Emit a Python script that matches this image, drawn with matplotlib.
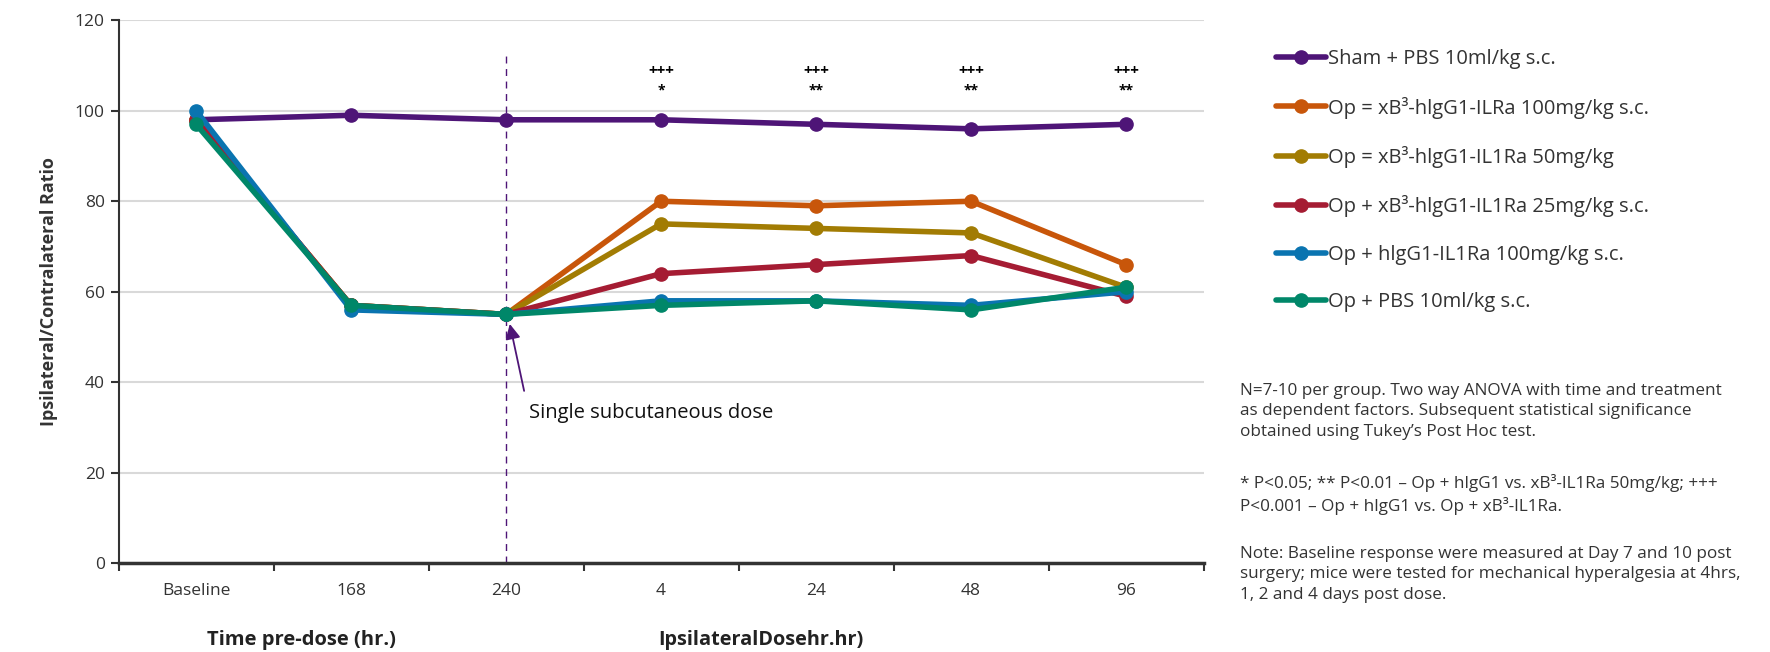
import matplotlib
matplotlib.use("Agg")
import matplotlib.pyplot as plt
import numpy as np

plt.rcParams['font.family'] = ['Open Sans', 'DejaVu Sans']

categories = ["Baseline", "168", "240", "4", "24", "48", "96"]
series_names = [
    "Sham + PBS 10ml/kg s.c.",
    "Op = xB³-hlgG1-ILRa 100mg/kg s.c.",
    "Op = xB³-hlgG1-IL1Ra 50mg/kg",
    "Op + xB³-hlgG1-IL1Ra 25mg/kg s.c.",
    "Op + hlgG1-IL1Ra 100mg/kg s.c.",
    "Op + PBS 10ml/kg s.c.",
]
sham = [98, 99, 98, 98, 97, 96, 97]
op_100 = [98, 57, 55, 80, 79, 80, 66]
op_50 = [98, 57, 55, 75, 74, 73, 61]
op_25 = [98, 57, 55, 64, 66, 68, 59]
hlg_100 = [100, 56, 55, 58, 58, 57, 60]
op_pbs = [97, 57, 55, 57, 58, 56, 61]
series_values = [sham, op_100, op_50, op_25, hlg_100, op_pbs]
colors = ["#4E1577", "#C8560A", "#A27C03", "#A51C33", "#0A74B0", "#008769"]

sig_top = ["", "", "", "+++", "+++", "+++", "+++"]
sig_bottom = ["", "", "", "*", "**", "**", "**"]

fig = plt.figure(figsize=(17.7, 6.52), dpi=100)
ax = fig.add_axes([0.067, 0.136, 0.613, 0.833])

x = np.arange(len(categories))
handles = []
for name, vals, c in zip(series_names, series_values, colors):
    h, = ax.plot(x, vals, color=c, lw=4.0, marker='o', ms=9.5, label=name,
                 solid_capstyle='round', zorder=3)
    handles.append(h)

ax.set_xlim(-0.5, len(categories) - 0.5)
ax.set_ylim(0, 120)
ax.set_yticks(np.arange(0, 121, 20))
ax.set_xticks(x)
ax.set_xticklabels(categories)
ax.set_xticks(np.arange(-0.5, len(categories), 1), minor=True)
ax.tick_params(axis='x', which='major', length=0, pad=14, labelsize=12.5, colors='#333333')
ax.tick_params(axis='x', which='minor', length=6, width=1.5, direction='out', color='#333333')
ax.tick_params(axis='y', length=6, width=1.5, labelsize=12.5, colors='#333333', pad=4)
ax.yaxis.grid(True, color='#d9d9d9', lw=1.5, zorder=0)
ax.set_axisbelow(True)
for s in ['top', 'right']:
    ax.spines[s].set_visible(False)
ax.spines['left'].set_color('#333333')
ax.spines['left'].set_linewidth(1.5)
ax.spines['bottom'].set_color('#333333')
ax.spines['bottom'].set_linewidth(2.5)

ax.set_ylabel("Ipsilateral/Contralateral Ratio", fontsize=13, fontweight='bold',
              color='#333333', labelpad=12)

# dose line
ax.plot([2, 2], [0, 113], color='#4E1577', lw=1, ls=(0, (5, 4)), zorder=2)
ax.annotate("", xy=(2.02, 53.5), xytext=(2.12, 37.5),
            arrowprops=dict(arrowstyle='-|>,head_length=0.9,head_width=0.45',
                            color='#4E1577', lw=1.3), zorder=5)
ax.text(2.15, 33.3, "Single subcutaneous dose", fontsize=14.5, va='center', ha='left',
        color='#111111')

for i in range(len(categories)):
    if sig_top[i]:
        ax.text(x[i], 108.8, sig_top[i], ha='center', va='center', fontsize=11,
                fontweight='bold', color='black')
        ax.text(x[i], 104.5, sig_bottom[i], ha='center', va='center', fontsize=10,
                fontweight='bold', color='black')

fig.text(301 / 1770, 1 - 640 / 652, "Time pre-dose (hr.)", ha='center', va='center',
         fontsize=14.5, fontweight='bold', color='#222222')
fig.text(761 / 1770, 1 - 640 / 652, "IpsilateralDosehr.hr)", ha='center', va='center',
         fontsize=14.3, fontweight='bold', color='#222222')

leg = fig.legend(handles=handles, loc='upper left', bbox_to_anchor=(1258 / 1770, 1 - 31 / 652),
                 frameon=False, fontsize=14.5, handlelength=2.5, handletextpad=0.1,
                 labelspacing=1.36, labelcolor='#333333')

notes = [
    (390, "N=7-10 per group. Two way ANOVA with time and treatment\nas dependent factors. Subsequent statistical significance\nobtained using Tukey\u2019s Post Hoc test."),
    (481, "* P<0.05; ** P<0.01 \u2013 Op + hlgG1 vs. xB\u00b3-IL1Ra 50mg/kg; +++\nP<0.001 \u2013 Op + hlgG1 vs. Op + xB\u00b3-IL1Ra."),
    (553, "Note: Baseline response were measured at Day 7 and 10 post\nsurgery; mice were tested for mechanical hyperalgesia at 4hrs,\n1, 2 and 4 days post dose."),
]
for ypix, t in notes:
    fig.text(1240 / 1770, 1 - (ypix - 7) / 652, t, ha='left', va='top', fontsize=12.3,
             color='#333333', linespacing=1.37)

fig.savefig("out.png", dpi=100)
